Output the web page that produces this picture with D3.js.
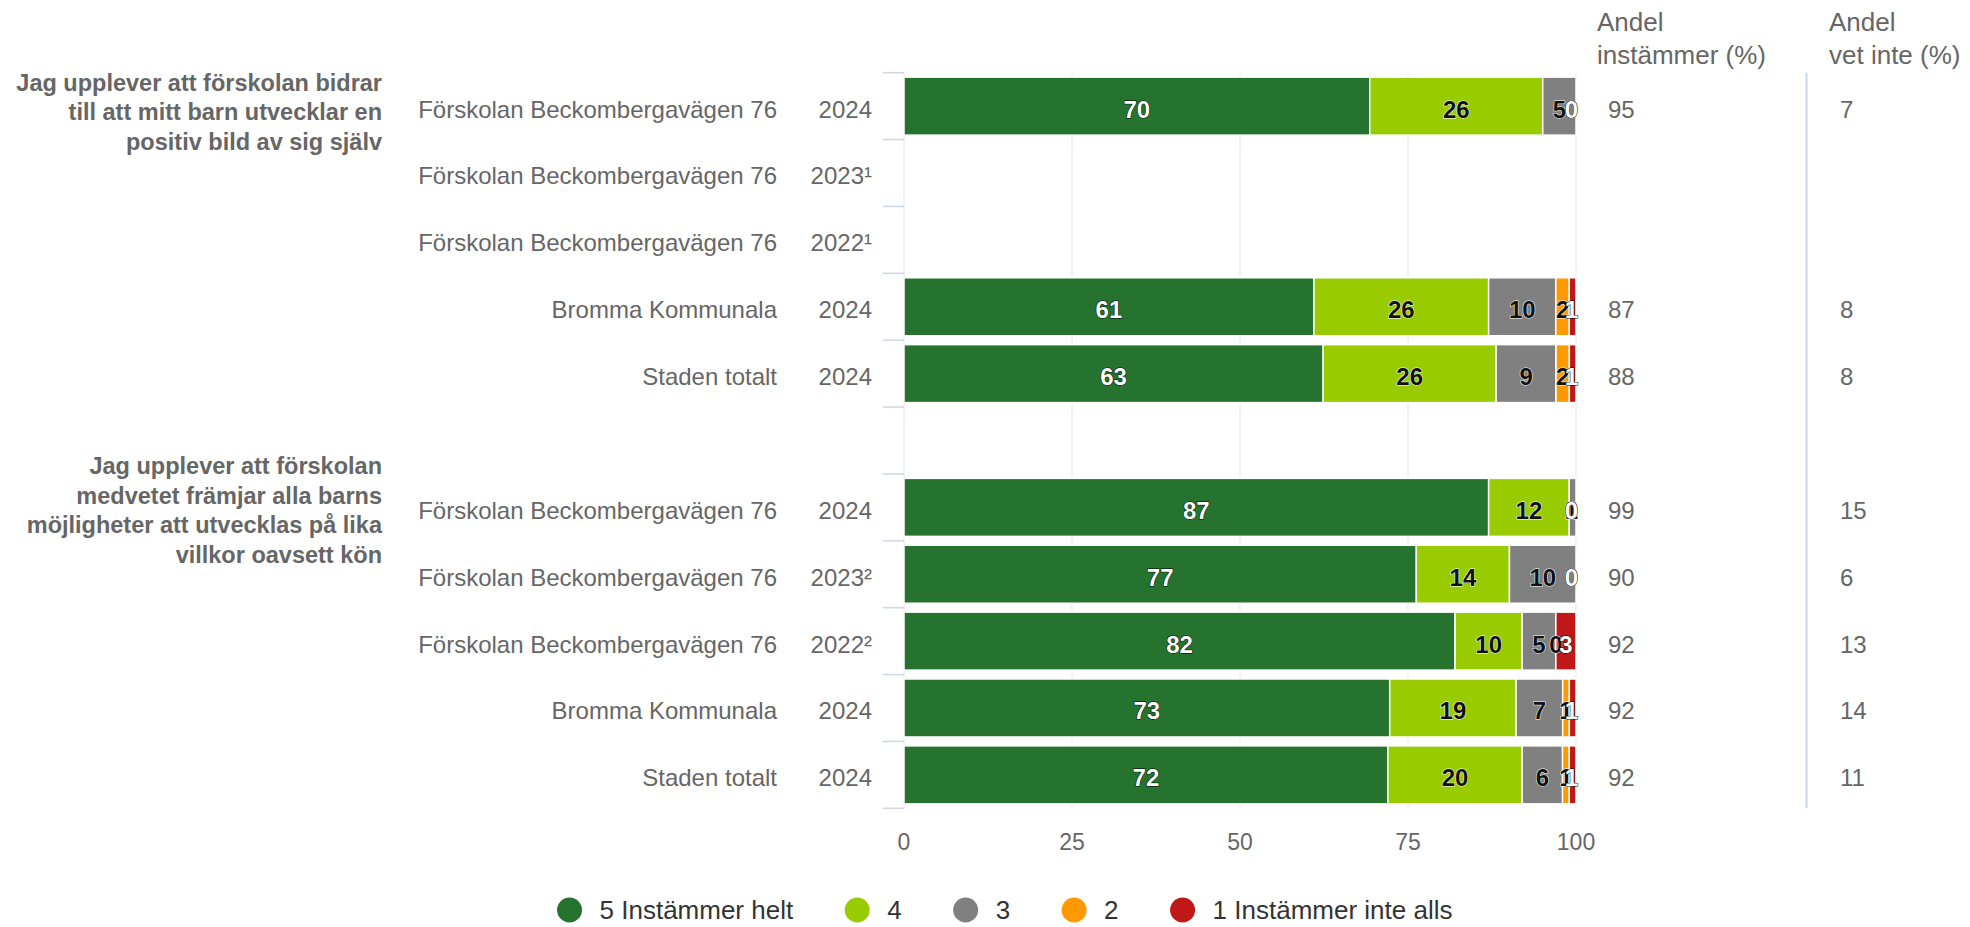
<!DOCTYPE html>
<html>
<head>
<meta charset="utf-8">
<script src="https://cdn.jsdelivr.net/npm/d3@7"></script>
<style>
  body { margin: 0; background: #fff; }
  text { font-family: "Liberation Sans", Arial, Helvetica, sans-serif; }
</style>
</head>
<body>
<div class="chart"></div>
<script>
// questions (label lines) and the row each one starts on
var questions = [
  ["Jag upplever att förskolan bidrar", "till att mitt barn utvecklar en", "positiv bild av sig själv"],
  ["Jag upplever att förskolan", "medvetet främjar alla barns", "möjligheter att utvecklas på lika", "villkor oavsett kön"]
];
var questionStart = [0, 6];

// one entry per row, row 5 is the spacer between the questions
var units = ["Förskolan Beckombergavägen 76", "Förskolan Beckombergavägen 76", "Förskolan Beckombergavägen 76",
  "Bromma Kommunala", "Staden totalt", "",
  "Förskolan Beckombergavägen 76", "Förskolan Beckombergavägen 76", "Förskolan Beckombergavägen 76",
  "Bromma Kommunala", "Staden totalt"];
var years = ["2024", "2023¹", "2022¹", "2024", "2024", "", "2024", "2023²", "2022²", "2024", "2024"];

// answer shares (%)
var s5 = [70, null, null, 61, 63, null, 87, 77, 82, 73, 72];
var s4 = [26, null, null, 26, 26, null, 12, 14, 10, 19, 20];
var s3 = [5, null, null, 10, 9, null, 1, 10, 5, 7, 6];
var s2 = [0, null, null, 2, 2, null, 0, 0, 0, 1, 1];
var s1 = [0, null, null, 1, 1, null, 0, 0, 3, 1, 1];

var andelInstammer = [95, null, null, 87, 88, null, 99, 90, 92, 92, 92];
var andelVetInte = [7, null, null, 8, 8, null, 15, 6, 13, 14, 11];

var seriesKeys = ["s5", "s4", "s3", "s2", "s1"];
var seriesNames = ["5 Instämmer helt", "4", "3", "2", "1 Instämmer inte alls"];
var seriesColors = ["#25732f", "#99cc00", "#808080", "#ff9900", "#c01818"];
var labelColors = ["#fff", "#111", "#111", "#111", "#fff"];
var xTicks = [0, 25, 50, 75, 100];

var svgWidth = 1970, svgHeight = 927;
var plot = { left: 904, right: 1576, top: 72.7, bottom: 808.3 };
var textShift = 3; // row texts sit a bit below the band centre

var svg = d3.select(".chart").append("svg")
  .attr("width", svgWidth)
  .attr("height", svgHeight);

// table for the stack
var table = units.map(function(u, i) {
  return { i: i, s5: s5[i], s4: s4[i], s3: s3[i], s2: s2[i], s1: s1[i] };
});

var stacked = d3.stack()
  .keys(seriesKeys)
  .value(function(d, k) { return d[k] || 0; })
  .offset(d3.stackOffsetExpand)(table);

var x = d3.scaleLinear().domain([0, 100]).range([plot.left, plot.right]);
var y = d3.scaleBand()
  .domain(d3.range(units.length))
  .range([plot.top, plot.bottom])
  .paddingInner(0.133)
  .paddingOuter(0.0665);
var step = y.step();
var rowY = function(i) { return y(i) + y.bandwidth() / 2 + textShift; };

// grid lines
svg.append("g").selectAll("line")
  .data(xTicks)
  .enter().append("line")
  .attr("x1", d => x(d)).attr("x2", d => x(d))
  .attr("y1", plot.top).attr("y2", plot.bottom)
  .attr("stroke", "#e6e6e6")
  .attr("stroke-width", 1);

// x axis labels
svg.append("g").selectAll("text")
  .data(xTicks)
  .enter().append("text")
  .attr("x", d => x(d))
  .attr("y", 850)
  .attr("text-anchor", "middle")
  .attr("fill", "#666")
  .attr("font-size", 23)
  .text(d => d);

// y axis tick marks between categories
svg.append("g").selectAll("line")
  .data(d3.range(units.length + 1))
  .enter().append("line")
  .attr("x1", plot.left - 21).attr("x2", plot.left)
  .attr("y1", d => plot.top + d * step).attr("y2", d => plot.top + d * step)
  .attr("stroke", "#ccd6eb")
  .attr("stroke-width", 1.5);

// bars
var valid = function(i) { return s5[i] != null; };
var layers = svg.append("g").selectAll("g")
  .data(stacked)
  .enter().append("g")
  .attr("fill", (d, k) => seriesColors[k]);

layers.selectAll("rect")
  .data(d => d.filter(p => valid(p.data.i)))
  .enter().append("rect")
  .attr("x", d => x(d[0] * 100))
  .attr("width", d => x(d[1] * 100) - x(d[0] * 100))
  .attr("y", d => y(d.data.i))
  .attr("height", y.bandwidth())
  .attr("stroke", "#fff")
  .attr("stroke-width", 1.5);

// data labels
var labelGroup = svg.append("g");
stacked.forEach(function(layer, k) {
  layer.filter(p => valid(p.data.i)).forEach(function(p) {
    var v = p.data[seriesKeys[k]];
    var cx = (x(p[0] * 100) + x(p[1] * 100)) / 2;
    var t = labelGroup.append("text")
      .attr("y", rowY(p.data.i))
      .attr("dy", "0.35em")
      .attr("text-anchor", "middle")
      .attr("font-size", 24)
      .attr("font-weight", "bold")
      .attr("fill", labelColors[k])
      .attr("stroke", labelColors[k] == "#fff" ? "#000" : "#fff")
      .attr("stroke-width", 1)
      .attr("paint-order", "stroke")
      .text(v);
    var w = t.node().getComputedTextLength();
    cx = Math.min(cx, plot.right - w / 2 + 2);
    t.attr("x", cx);
  });
});

// category labels
var catG = svg.append("g").attr("fill", "#666").attr("font-size", 24);
catG.selectAll(".unit")
  .data(units)
  .enter().append("text")
  .attr("class", "unit")
  .attr("x", 777)
  .attr("y", (d, i) => rowY(i))
  .attr("dy", "0.35em")
  .attr("text-anchor", "end")
  .text(d => d);
catG.selectAll(".year")
  .data(years)
  .enter().append("text")
  .attr("class", "year")
  .attr("x", 872)
  .attr("y", (d, i) => rowY(i))
  .attr("dy", "0.35em")
  .attr("text-anchor", "end")
  .text(d => d);

// question labels
var questionShift = [6, 3];
questions.forEach(function(lines, q) {
  var cy = y(questionStart[q]) + y.bandwidth() / 2 + questionShift[q];
  var lh = 29.5;
  var top = cy - (lines.length - 1) * lh / 2;
  var t = svg.append("text")
    .attr("text-anchor", "end")
    .attr("fill", "#666")
    .attr("font-size", 23.5)
    .attr("font-weight", "bold");
  lines.forEach(function(line, j) {
    t.append("tspan")
      .attr("x", 382)
      .attr("y", top + j * lh)
      .attr("dy", "0.35em")
      .text(line);
  });
});

// right-hand columns
var colGroup = svg.append("g").attr("fill", "#666");
[["Andel", "instämmer (%)"], ["Andel", "vet inte (%)"]].forEach(function(h, c) {
  var hx = c == 0 ? 1597 : 1829;
  h.forEach(function(line, j) {
    colGroup.append("text")
      .attr("x", hx)
      .attr("y", 31 + j * 33)
      .attr("font-size", 26)
      .text(line);
  });
});

svg.append("line")
  .attr("x1", 1806.5).attr("x2", 1806.5)
  .attr("y1", plot.top).attr("y2", plot.bottom)
  .attr("stroke", "#ccd6eb")
  .attr("stroke-width", 2);

[andelInstammer, andelVetInte].forEach(function(vals, c) {
  colGroup.selectAll(".col" + c)
    .data(vals)
    .enter().append("text")
    .attr("class", "col" + c)
    .attr("x", c == 0 ? 1608 : 1840)
    .attr("y", (d, i) => rowY(i))
    .attr("dy", "0.35em")
    .attr("font-size", 24)
    .text(d => d == null ? "" : d);
});

// legend
var legend = svg.append("g");
var lx = 0;
seriesNames.forEach(function(name, k) {
  var item = legend.append("g").attr("transform", "translate(" + lx + ",0)");
  item.append("circle")
    .attr("cx", 13).attr("cy", 0).attr("r", 12.5)
    .attr("fill", seriesColors[k]);
  var t = item.append("text")
    .attr("x", 43)
    .attr("dy", "0.35em")
    .attr("font-size", 26)
    .attr("fill", "#333")
    .text(name);
  lx += 43 + t.node().getComputedTextLength() + 51;
});
var legendWidth = lx - 51;
legend.attr("transform", "translate(" + (1004.5 - legendWidth / 2) + ",910)");
</script>
</body>
</html>
